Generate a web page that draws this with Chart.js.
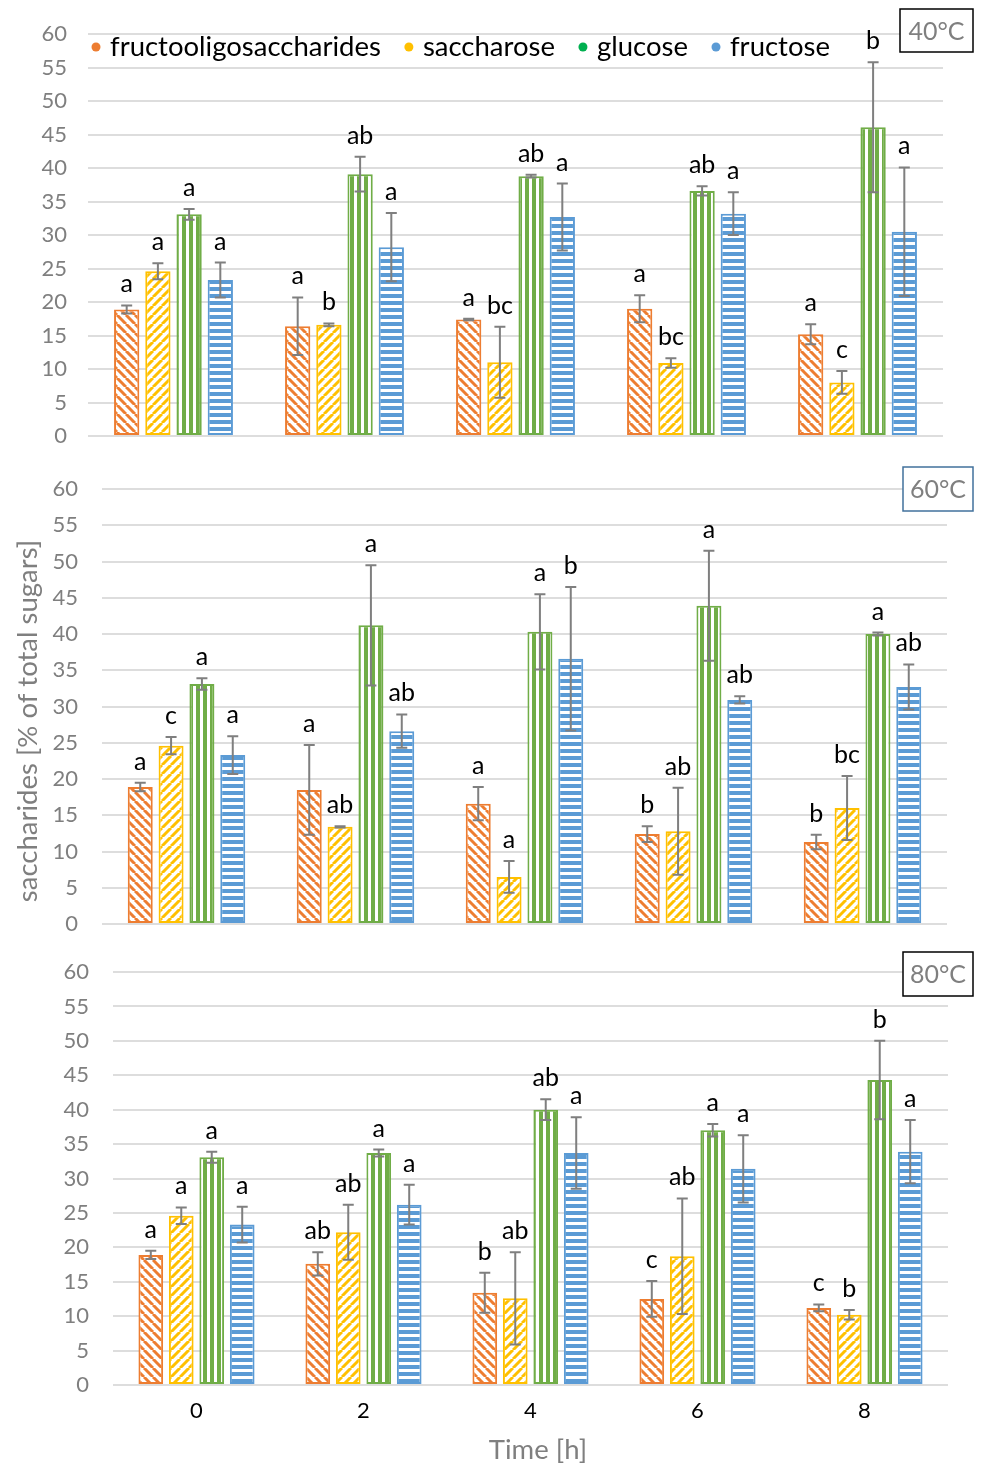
<!DOCTYPE html>
<html>
<head>
<meta charset="utf-8">
<title>Saccharide composition during heating</title>
<script src="https://cdn.jsdelivr.net/npm/chart.js@4.4.1/dist/chart.umd.min.js"></script>
<style>
  html, body { margin: 0; padding: 0; background: #ffffff; }
  #wrap { position: relative; width: 981px; height: 1464px; overflow: hidden; }
  #wrap canvas { position: absolute; left: 0; top: 0; }
</style>
</head>
<body>
<div id="wrap">
  <canvas id="c40" width="981" height="1464"></canvas>
  <canvas id="c60" width="981" height="1464"></canvas>
  <canvas id="c80" width="981" height="1464"></canvas>
</div>
<script>
// ---- data -------------------------------------------------------------
const times = ['0', '2', '4', '6', '8'];
const seriesNames = ['fructooligosaccharides', 'saccharose', 'glucose', 'fructose'];

// 40 °C
const fos40 = [18.9, 16.4, 17.4, 19.0, 15.2];
const fos40Err = [0.6, 4.3, 0.1, 2.0, 1.5];
const fos40Grp = ['a', 'a', 'a', 'a', 'a'];
const sac40 = [24.6, 16.6, 11.0, 10.9, 8.0];
const sac40Err = [1.2, 0.2, 5.3, 0.7, 1.7];
const sac40Grp = ['a', 'b', 'bc', 'bc', 'c'];
const glc40 = [33.1, 39.1, 38.8, 36.6, 46.1];
const glc40Err = [0.8, 2.6, 0.2, 0.7, 9.7];
const glc40Grp = ['a', 'ab', 'ab', 'ab', 'b'];
const fru40 = [23.3, 28.2, 32.7, 33.2, 30.5];
const fru40Err = [2.6, 5.1, 5.0, 3.2, 9.6];
const fru40Grp = ['a', 'a', 'a', 'a', 'a'];

// 60 °C
const fos60 = [18.9, 18.5, 16.6, 12.4, 11.3];
const fos60Err = [0.6, 6.2, 2.3, 1.1, 1.0];
const fos60Grp = ['a', 'a', 'a', 'b', 'b'];
const sac60 = [24.6, 13.4, 6.5, 12.8, 16.0];
const sac60Err = [1.2, 0.1, 2.2, 6.0, 4.4];
const sac60Grp = ['c', 'ab', 'a', 'ab', 'bc'];
const glc60 = [33.1, 41.2, 40.3, 43.9, 40.0];
const glc60Err = [0.8, 8.3, 5.2, 7.6, 0.2];
const glc60Grp = ['a', 'a', 'a', 'a', 'a'];
const fru60 = [23.3, 26.6, 36.6, 30.9, 32.7];
const fru60Err = [2.6, 2.3, 9.9, 0.5, 3.1];
const fru60Grp = ['a', 'ab', 'b', 'ab', 'ab'];

// 80 °C
const fos80 = [18.9, 17.6, 13.4, 12.5, 11.2];
const fos80Err = [0.6, 1.7, 2.9, 2.6, 0.5];
const fos80Grp = ['a', 'ab', 'b', 'c', 'c'];
const sac80 = [24.6, 22.2, 12.6, 18.7, 10.2];
const sac80Err = [1.2, 4.0, 6.7, 8.4, 0.7];
const sac80Grp = ['a', 'ab', 'ab', 'ab', 'b'];
const glc80 = [33.1, 33.7, 40.0, 37.0, 44.3];
const glc80Err = [0.8, 0.5, 1.5, 0.9, 5.7];
const glc80Grp = ['a', 'a', 'ab', 'a', 'b'];
const fru80 = [23.3, 26.2, 33.7, 31.4, 33.9];
const fru80Err = [2.6, 2.9, 5.2, 4.9, 4.6];
const fru80Grp = ['a', 'a', 'a', 'a', 'a'];

const yTicksMin = 0, yTicksMax = 60, yTicksStep = 5;

// ---- styling ----------------------------------------------------------
const FONT = "Lato, 'Open Sans', sans-serif";
const lineColors = ['#ED7D31', '#FFC000', '#70AD47', '#5B9BD5'];
const legendDots = ['#ED7D31', '#FFC000', '#00B050', '#5B9BD5'];
const stripeKinds = ['down', 'up', 'vertical', 'horizontal'];
const GRAY = '#7f7f7f';

Chart.defaults.font.family = FONT;
Chart.defaults.animation = false;

// Hatched fills: one small repeating tile per series
function hatch(ctx, color, kind) {
  const s = kind === 'horizontal' ? 7 : (kind === 'vertical' ? 7 : 9);
  const tile = document.createElement('canvas');
  tile.width = s; tile.height = s;
  const g = tile.getContext('2d');
  g.fillStyle = '#ffffff';
  g.fillRect(0, 0, s, s);
  g.fillStyle = color;
  g.strokeStyle = color;
  if (kind === 'down' || kind === 'up') {
    g.lineWidth = 3;
    for (let k = -1; k <= 1; k++) {
      g.beginPath();
      if (kind === 'down') { g.moveTo(k * s, 0); g.lineTo(k * s + s, s); }
      else { g.moveTo(k * s, s); g.lineTo(k * s + s, 0); }
      g.stroke();
    }
  } else if (kind === 'vertical') {
    g.fillRect(0, 0, 4, s);
  } else {
    g.fillRect(0, 0, s, 4);
  }
  return ctx.createPattern(tile, 'repeat');
}

// Error bars and significance letters above each bar
const barMarks = {
  id: 'barMarks',
  afterDatasetsDraw(chart) {
    const { ctx } = chart;
    const y = chart.scales.y;
    chart.data.datasets.forEach((ds, i) => {
      const meta = chart.getDatasetMeta(i);
      meta.data.forEach((bar, j) => {
        const v = ds.data[j];
        const e = ds.errors[j];
        const top = y.getPixelForValue(v + e);
        const bot = y.getPixelForValue(v - e);
        ctx.save();
        ctx.strokeStyle = GRAY;
        ctx.lineWidth = 2;
        ctx.beginPath();
        ctx.moveTo(bar.x, top); ctx.lineTo(bar.x, bot);
        ctx.moveTo(bar.x - 5.5, top); ctx.lineTo(bar.x + 5.5, top);
        ctx.moveTo(bar.x - 5.5, bot); ctx.lineTo(bar.x + 5.5, bot);
        ctx.stroke();
        ctx.fillStyle = '#000000';
        ctx.font = '25px ' + FONT;
        ctx.textAlign = 'center';
        ctx.textBaseline = 'alphabetic';
        ctx.fillText(ds.groups[j], bar.x, Math.min(top, y.getPixelForValue(v)) - 13);
        ctx.restore();
      });
    });
  }
};

// Temperature tag in the top-right corner of each panel
const tempTag = {
  id: 'tempTag',
  afterDraw(chart, args, o) {
    const { ctx } = chart;
    ctx.save();
    ctx.fillStyle = '#ffffff';
    ctx.fillRect(o.x, o.y, o.w, o.h);
    ctx.strokeStyle = o.border;
    ctx.lineWidth = 1.5;
    ctx.strokeRect(o.x, o.y, o.w, o.h);
    ctx.fillStyle = GRAY;
    ctx.font = '25px ' + FONT;
    ctx.textAlign = 'center';
    ctx.textBaseline = 'middle';
    ctx.fillText(o.text, o.x + o.w / 2, o.y + o.h / 2 + 1);
    ctx.restore();
  }
};

// Single-row legend drawn inside the first panel
const seriesLegend = {
  id: 'seriesLegend',
  afterDraw(chart, args, o) {
    const { ctx } = chart;
    ctx.save();
    ctx.font = o.size + 'px ' + FONT;
    ctx.textBaseline = 'middle';
    ctx.textAlign = 'left';
    let x = o.x;
    chart.data.datasets.forEach((ds, i) => {
      ctx.fillStyle = legendDots[i];
      ctx.beginPath();
      ctx.arc(x, o.y, 4.5, 0, Math.PI * 2);
      ctx.fill();
      ctx.fillStyle = '#000000';
      ctx.fillText(ds.label, x + 14, o.y);
      x += 14 + ctx.measureText(ds.label).width + o.gap;
    });
    ctx.restore();
  }
};

// Shared vertical axis caption, centred on the middle panel
const sideTitle = {
  id: 'sideTitle',
  afterDraw(chart, args, o) {
    const { ctx } = chart;
    ctx.save();
    ctx.translate(o.x, o.y);
    ctx.rotate(-Math.PI / 2);
    ctx.fillStyle = GRAY;
    ctx.font = o.size + 'px ' + FONT;
    ctx.textAlign = 'center';
    ctx.textBaseline = 'middle';
    ctx.fillText(o.text, 0, 0);
    ctx.restore();
  }
};

// Horizontal caption under the last panel
const bottomTitle = {
  id: 'bottomTitle',
  afterDraw(chart, args, o) {
    const { ctx } = chart;
    ctx.save();
    ctx.fillStyle = GRAY;
    ctx.font = o.size + 'px ' + FONT;
    ctx.textAlign = 'center';
    ctx.textBaseline = 'middle';
    ctx.fillText(o.text, o.x, o.y);
    ctx.restore();
  }
};

function panel(id, series, p) {
  const canvas = document.getElementById(id);
  const ctx = canvas.getContext('2d');
  const datasets = series.map((s, i) => ({
    label: seriesNames[i],
    data: s.values,
    errors: s.errors,
    groups: s.groups,
    backgroundColor: hatch(ctx, lineColors[i], stripeKinds[i]),
    borderColor: lineColors[i],
    borderWidth: 2,
    borderSkipped: false,
    categoryPercentage: 0.73,
    barPercentage: 0.81
  }));
  const plugins = [barMarks, tempTag];
  if (p.legend) plugins.push(seriesLegend);
  if (p.side) plugins.push(sideTitle);
  if (p.bottomTitle) plugins.push(bottomTitle);
  return new Chart(ctx, {
    type: 'bar',
    data: { labels: times, datasets },
    plugins,
    options: {
      responsive: false,
      animation: false,
      events: [],
      layout: { padding: { top: p.top, bottom: p.bottom, left: 0, right: p.right } },
      plugins: {
        legend: { display: false },
        tooltip: { enabled: false },
        tempTag: p.tag,
        seriesLegend: p.legend || {},
        sideTitle: p.side || {},
        bottomTitle: p.bottomTitle || {}
      },
      scales: {
        x: {
          type: 'category',
          grid: { display: false, drawTicks: false },
          border: { display: false },
          ticks: { display: !!p.xTicks, color: '#000000', font: { size: 22 }, padding: 13 },
          afterFit(s) { s.height = p.xHeight; }
        },
        y: {
          min: yTicksMin,
          max: yTicksMax,
          ticks: { stepSize: yTicksStep, color: GRAY, font: { size: 22 }, padding: p.tickPad },
          grid: { color: '#dddddd', lineWidth: 2, drawTicks: false },
          border: { display: false },
          afterFit(s) { s.width = p.left; }
        }
      }
    }
  });
}

panel('c40', [
  { values: fos40, errors: fos40Err, groups: fos40Grp },
  { values: sac40, errors: sac40Err, groups: sac40Grp },
  { values: glc40, errors: glc40Err, groups: glc40Grp },
  { values: fru40, errors: fru40Err, groups: fru40Grp }
], {
  top: 29, bottom: 1464 - 436, right: 981 - 943, left: 88, tickPad: 21, xHeight: 0,
  tag: { text: '40°C', x: 900, y: 9, w: 73, h: 43, border: '#000000' },
  legend: { x: 96, y: 47, size: 27.5, gap: 28 }
});

panel('c60', [
  { values: fos60, errors: fos60Err, groups: fos60Grp },
  { values: sac60, errors: sac60Err, groups: sac60Grp },
  { values: glc60, errors: glc60Err, groups: glc60Grp },
  { values: fru60, errors: fru60Err, groups: fru60Grp }
], {
  top: 489, bottom: 1464 - 924, right: 981 - 947, left: 102, tickPad: 24, xHeight: 0,
  tag: { text: '60°C', x: 903, y: 467, w: 70, h: 44, border: '#41719C' },
  side: { text: 'saccharides [% of total sugars]', x: 28, y: 721, size: 27.5 }
});

panel('c80', [
  { values: fos80, errors: fos80Err, groups: fos80Grp },
  { values: sac80, errors: sac80Err, groups: sac80Grp },
  { values: glc80, errors: glc80Err, groups: glc80Grp },
  { values: fru80, errors: fru80Err, groups: fru80Grp }
], {
  top: 972, bottom: 0, right: 981 - 948, left: 113, tickPad: 24, xHeight: 1464 - 1385,
  tag: { text: '80°C', x: 903, y: 952, w: 70, h: 44, border: '#000000' },
  xTicks: true,
  bottomTitle: { text: 'Time [h]', x: 538, y: 1450, size: 27.5 }
});
</script>
</body>
</html>
